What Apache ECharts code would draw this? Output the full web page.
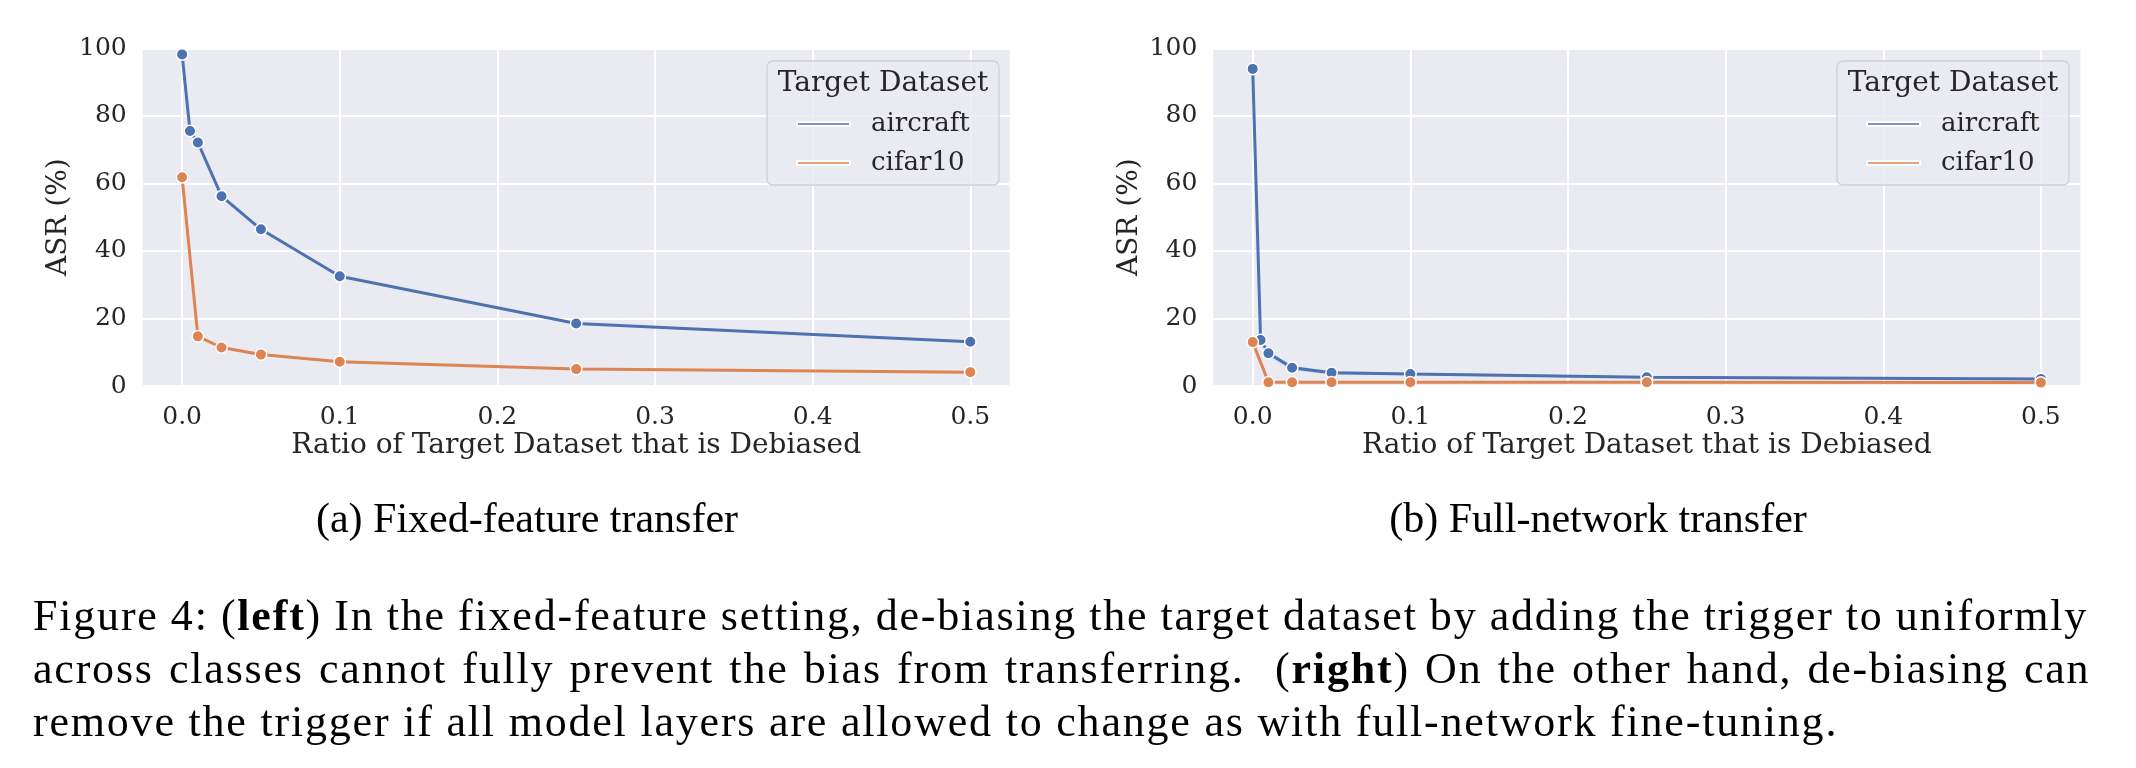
<!DOCTYPE html>
<html>
<head>
<meta charset="utf-8">
<script src="https://cdn.jsdelivr.net/npm/echarts@6/dist/echarts.min.js"></script>
<style>
html, body { margin: 0; padding: 0; background: #ffffff; }
#chart { position: absolute; left: 0; top: 0; width: 2136px; height: 768px; }
#caption { position: absolute; left: 33px; top: 589px; width: 2055px;
  font-family: "Liberation Serif", serif; font-size: 44px; line-height: 53px; color: #000;
  letter-spacing: 1.8px; }
#caption div { white-space: nowrap; }
#caption span { display: inline-block; white-space: nowrap; }
</style>
</head>
<body>
<div id="chart"></div>
<div id="caption">
  <div><span class="j">Figure 4: (<b>left</b>) In the fixed-feature setting, de-biasing the target dataset by adding the trigger to uniformly</span></div>
  <div><span class="j">across classes cannot fully prevent the bias from transferring.&nbsp; (<b>right</b>) On the other hand, de-biasing can</span></div>
  <div><span>remove the trigger if all model layers are allowed to change as with full-network fine-tuning.</span></div>
</div>
<script>
// ---------------- data ----------------
const ratios = [0, 0.005, 0.01, 0.025, 0.05, 0.1, 0.25, 0.5];
const cifarRatios = [0, 0.01, 0.025, 0.05, 0.1, 0.25, 0.5];
const xTicks = [0, 0.1, 0.2, 0.3, 0.4, 0.5];
const seriesNames = ['aircraft', 'cifar10'];
const panelTitles = ['(a) Fixed-feature transfer', '(b) Full-network transfer'];
const legendTitle = 'Target Dataset';
const xName = 'Ratio of Target Dataset that is Debiased';
const yName = 'ASR (%)';

// (a) fixed-feature
const fixedAircraft = [98.2, 75.5, 72.1, 56.2, 46.4, 32.5, 18.5, 13.1];
const fixedCifar10 = [61.8, 14.7, 11.4, 9.3, 7.2, 5.0, 4.1];
// (b) full-network
const fullAircraft = [93.9, 13.6, 9.7, 5.4, 3.9, 3.55, 2.6, 2.1];
const fullAircraftLow = [93.4, 12.8, 8.9, 4.7, 3.4, 3.2, 2.3, 1.8];
const fullAircraftHigh = [94.4, 14.4, 10.5, 6.1, 4.4, 3.9, 2.9, 2.4];
const fullCifar10 = [13.0, 1.1, 1.1, 1.1, 1.1, 1.1, 1.0];

// ---------------- justify caption lines ----------------
const CAP_W = 2055;
document.querySelectorAll('#caption span.j').forEach(sp => {
  sp.style.wordSpacing = '0px';
  const w = sp.getBoundingClientRect().width;
  const spaces = (sp.textContent.match(/ /g) || []).length;
  if (spaces > 0) sp.style.wordSpacing = ((CAP_W - w) / spaces) + 'px';
});

// ---------------- style ----------------
const BLUE = '#4C72B0', ORANGE = '#DD8452';
const FONT = '"DejaVu Serif", serif';
const TXT = '#262626';
const gridLefts = [142.7, 1213.3];
const legendLefts = [767, 1837];

const pair = (xs, ys) => xs.map((x, i) => [x, ys[i]]);

const ctx = document.createElement('canvas').getContext('2d');
ctx.font = '26px "DejaVu Serif"';
const wText = Math.max(ctx.measureText('aircraft').width, ctx.measureText('cifar10').width);
const rightPad = Math.max(4, 231 - 29 - 53 - 21 - wText);

const chart = echarts.init(document.getElementById('chart'), null, { renderer: 'canvas' });

function lineSeries(name, color, data, idx, z) {
  return {
    type: 'line', name: name, xAxisIndex: idx, yAxisIndex: idx, data: data,
    symbol: 'circle', symbolSize: 11.5, showSymbol: true, z: z,
    itemStyle: { color: color, borderColor: '#ffffff', borderWidth: 1.5 },
    lineStyle: { color: color, width: 3 },
    emphasis: { disabled: true }, animation: false
  };
}

const option = {
  backgroundColor: '#ffffff',
  animation: false,
  grid: gridLefts.map(l => ({
    left: l, top: 48.3, width: 867, height: 337.7, show: true,
    backgroundColor: '#EAEAF2', borderWidth: 0, containLabel: false
  })),
  xAxis: [0, 1].map(i => ({
    type: 'value', gridIndex: i, min: -0.025, max: 0.525,
    name: xName, nameLocation: 'middle', nameGap: 46,
    nameTextStyle: { fontFamily: FONT, fontSize: 28, color: TXT },
    axisLine: { show: false },
    axisTick: { show: false, customValues: xTicks },
    axisLabel: { customValues: xTicks, fontFamily: FONT, fontSize: 25, color: TXT, margin: 19,
      formatter: v => v.toFixed(1) },
    splitLine: { show: true, lineStyle: { color: '#ffffff', width: 2 } }
  })),
  yAxis: [0, 1].map(i => ({
    type: 'value', gridIndex: i, min: 0, max: 100, interval: 20,
    name: yName, nameLocation: 'middle', nameGap: 70,
    nameTextStyle: { fontFamily: FONT, fontSize: 28, color: TXT },
    axisLine: { show: false }, axisTick: { show: false },
    axisLabel: { fontFamily: FONT, fontSize: 25, color: TXT, margin: 16 },
    splitLine: { show: true, lineStyle: { color: '#ffffff', width: 2 } }
  })),
  legend: [0, 1].map(i => ({
    left: legendLefts[i], top: 61, orient: 'vertical',
    data: seriesNames, icon: 'rect', itemWidth: 53, itemHeight: 3.5, itemGap: 9,
    padding: [48, rightPad, 7, 29],
    backgroundColor: 'rgba(234,234,242,0.8)', borderColor: '#cfcfd6', borderWidth: 1.3, borderRadius: 6,
    selectedMode: false,
    textStyle: { fontFamily: FONT, fontSize: 26, color: TXT, lineHeight: 30, padding: [0, 0, 0, 16] }
  })),
  graphic: [
    ...[0, 1].map(i => ({
      type: 'text', x: [883, 1953][i], y: 84, z: 100,
      style: { text: legendTitle, font: '28px "DejaVu Serif"', fill: TXT, textAlign: 'center', textVerticalAlign: 'middle' }
    })),
    ...[0, 1].map(i => ({
      type: 'text', x: [527, 1598][i], y: 521, z: 100,
      style: { text: panelTitles[i], font: '42px "Liberation Serif"', fill: '#000', textAlign: 'center', textVerticalAlign: 'middle' }
    }))
  ],
  series: [
    lineSeries(seriesNames[0], BLUE, pair(ratios, fixedAircraft), 0, 3),
    lineSeries(seriesNames[1], ORANGE, pair(cifarRatios, fixedCifar10), 0, 4),
    {
      type: 'custom', name: 'aircraft band', xAxisIndex: 1, yAxisIndex: 1, silent: true, z: 2,
      data: ratios.map((r, i) => [r, fullAircraftLow[i], fullAircraftHigh[i]]),
      renderItem: function (params, api) {
        if (params.dataIndex !== 0) return null;
        const top = ratios.map((r, i) => api.coord([r, fullAircraftHigh[i]]));
        const bot = ratios.map((r, i) => api.coord([r, fullAircraftLow[i]])).reverse();
        return { type: 'polygon', shape: { points: top.concat(bot) },
          style: { fill: 'rgba(76,114,176,0.22)' } };
      },
      animation: false
    },
    lineSeries(seriesNames[0], BLUE, pair(ratios, fullAircraft), 1, 3),
    lineSeries(seriesNames[1], ORANGE, pair(cifarRatios, fullCifar10), 1, 4)
  ]
};
chart.setOption(option);
</script>
</body>
</html>
